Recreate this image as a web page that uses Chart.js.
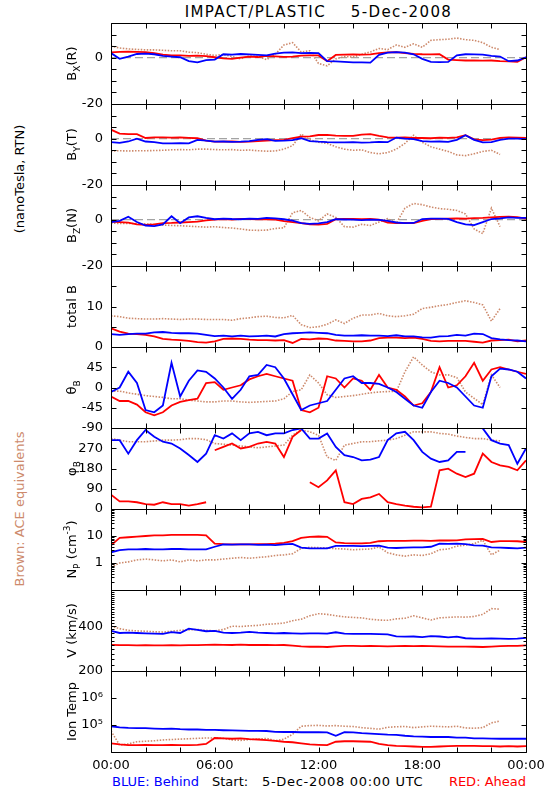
<!DOCTYPE html>
<html>
<head>
<meta charset="utf-8">
<title>IMPACT/PLASTIC 5-Dec-2008</title>
<script src="https://cdn.jsdelivr.net/npm/chart.js"></script>
<style>
  body { margin: 0; background: #fff; font-family: "DejaVu Sans", sans-serif; font-size: 13px; color: #000; }
  #page { position: relative; width: 550px; height: 800px; overflow: hidden; background: #fff; }
  #page canvas { position: absolute; left: 0; }
  .txt { position: absolute; white-space: pre; line-height: 16px; }
  .side { position: absolute; white-space: pre; line-height: 16px; transform: translate(-50%, -50%) rotate(-90deg); }
</style>
</head>
<body>
<div id="page">
  <div class="txt" style="left:111px; width:415px; top:3px; text-align:center; font-size:15px; line-height:18px; letter-spacing:1.4px;">IMPACT/PLASTIC    5-Dec-2008</div>
  <div class="side" style="left:20px; top:179px;">(nanoTesla, RTN)</div>
  <div class="side" style="left:20px; top:509px; color:#cd8a6c;">Brown: ACE equivalents</div>
  <div class="txt" style="left:112px; top:774px; color:#0000ff;">BLUE: Behind</div>
  <div class="txt" style="left:212px; top:774px;">Start:</div>
  <div class="txt" style="left:262px; top:774px; letter-spacing:0.7px;">5-Dec-2008 00:00 UTC</div>
  <div class="txt" style="right:24px; top:774px; color:#ff0000;">RED: Ahead</div>
</div>
<script>
// time axis, hours after 5-Dec-2008 00:00 UTC
const hours = [0,0.5,1,1.5,2,2.5,3,3.5,4,4.5,5,5.5,6,6.5,7,7.5,8,8.5,9,9.5,10,10.5,11,11.5,12,12.5,13,13.5,14,14.5,15,15.5,16,16.5,17,17.5,18,18.5,19,19.5,20,20.5,21,21.5,22,22.5,23,23.5,24];
const xTicks = [0,2,4,6,8,10,12,14,16,18,20,22,24];
const xTickText = ['00:00','','','06:00','','','12:00','','','18:00','','','00:00'];

// Bx (R), nT
const bxBlue = [2.0,-0.5,0.5,1.6,1.8,1.5,0.8,0.5,0.2,-1.5,-2.0,-1.0,-0.8,1.5,1.3,1.6,1.4,1.2,1.0,1.8,2.2,2.3,2.0,2.1,2.0,-1.5,-1.6,-1.8,-2.0,-2.0,-2.1,1.2,2.2,2.4,2.2,1.5,-0.5,-1.8,-1.9,-1.8,1.0,1.5,1.4,1.3,0.8,0.5,-1.5,-1.2,0.2];
const bxRed = [2.3,2.5,2.6,2.5,2.4,2.0,1.3,1.0,1.0,0.8,0.9,0.7,0.2,-0.3,-0.5,0.0,0.5,0.3,0.8,0.6,0.4,0.5,0.9,1.0,1.0,-1.5,1.2,1.3,1.4,1.3,1.4,2.0,2.3,2.4,2.0,1.7,1.5,1.4,1.5,-0.8,-1.0,-1.2,-1.2,-1.3,-1.2,-1.5,-1.6,-1.8,0.2];
const bxBrown = [5.0,4.2,3.8,3.6,3.4,3.4,3.2,3.0,3.0,2.4,2.2,1.5,1.0,1.4,0.5,-0.5,0.8,0.5,-0.8,1.5,5.5,6.5,2.5,3.0,-2.5,-3.5,-0.5,0.5,0.3,1.5,2.5,4.0,3.5,5.5,4.5,6.0,4.5,7.5,7.8,8.0,8.5,7.8,7.5,6.5,4.5,3.5,null,null,null];

// By (T), nT
const byBlue = [-1.5,-1.8,-1.2,0.0,-1.2,-1.5,-2.0,-2.0,-1.9,-2.0,-0.5,-0.8,-1.3,-1.2,-1.4,-1.3,-1.0,-0.5,-0.2,-0.9,-0.8,-0.6,0.2,-1.0,-1.3,-1.5,-1.6,-1.6,-1.5,-1.7,-1.6,-1.4,-1.5,0.5,0.0,-0.2,-1.0,-1.3,-1.2,-1.4,-0.5,1.5,-0.5,-1.6,-1.5,-0.5,0.0,0.0,-0.2];
const byRed = [3.9,2.2,2.0,2.0,0.3,0.6,0.6,0.5,0.6,0.4,0.2,-0.8,-1.3,-1.3,-1.2,-1.4,-1.3,-1.0,-0.8,-0.6,-0.5,0.3,0.9,1.0,1.6,1.7,1.3,1.2,1.2,1.8,2.0,1.2,0.6,0.5,0.6,0.3,0.3,0.2,0.5,0.4,0.6,1.5,-0.3,-0.6,-0.4,0.4,0.6,0.5,0.3];
const byBrown = [-5.3,-5.2,-5.3,-5.2,-5.2,-5.1,-5.0,-4.8,-4.7,-4.8,-4.5,-4.5,-4.7,-4.8,-4.7,-5.0,-4.9,-5.2,-5.4,-5.3,-4.5,-3.0,2.0,-0.5,-1.5,-2.0,-3.5,-4.5,-5.0,-4.8,-6.0,-6.5,-6.0,-4.5,-2.0,1.5,-1.5,-3.5,-4.5,-5.5,-7.0,-7.3,-6.5,-5.5,-5.0,-6.8,null,null,null];

// Bz (N), nT
const bzBlue = [-1.0,-0.5,1.3,-1.0,-2.5,-2.8,-2.0,1.5,-1.5,1.0,1.5,0.8,0.2,0.5,0.3,0.2,0.5,0.4,0.8,0.6,0.2,-0.4,-1.5,-1.8,-1.6,-1.0,0.2,0.1,0.0,-0.2,0.0,-0.1,-0.5,-1.2,-1.5,-1.4,0.3,0.5,0.5,0.4,-1.0,-2.0,-2.3,-1.0,0.3,0.6,1.0,0.8,0.8];
const bzRed = [-0.8,-1.0,-1.3,-2.0,-2.2,-2.0,-1.5,-1.4,-1.2,-1.0,-0.8,-0.3,0.0,0.3,0.0,0.4,0.3,0.2,0.2,0.0,-0.6,-1.0,-1.5,-2.0,-2.1,-1.8,0.2,0.4,0.3,0.2,0.3,0.0,-1.2,-1.5,-1.4,-1.5,-0.5,0.3,0.4,0.5,0.6,0.5,0.7,0.8,1.0,1.2,1.3,1.1,0.5];
const bzBrown = [-1.5,-1.6,-1.6,-1.7,-1.8,-2.0,-2.3,-2.5,-2.6,-2.8,-3.0,-3.2,-3.0,-3.4,-3.6,-4.0,-4.5,-4.6,-4.5,-3.8,-3.5,3.0,4.0,1.0,-0.5,2.5,1.0,-3.0,-3.2,-2.0,-2.5,-1.0,0.5,-1.5,5.0,7.0,6.5,5.5,4.8,4.5,4.0,2.5,-4.0,-6.0,5.0,-3.0,null,null,null];

// total B, nT
const tbBlue = [3.2,3.0,3.2,3.3,3.3,3.6,3.7,3.5,3.4,3.4,3.3,3.0,2.7,2.8,2.6,2.8,2.6,2.7,2.8,2.6,3.2,3.4,3.5,3.6,3.5,3.4,3.0,2.8,2.8,2.9,2.8,2.8,2.7,2.9,2.6,2.6,2.4,2.3,2.6,2.7,3.0,2.8,3.3,3.2,2.2,1.9,1.7,1.6,1.4];
const tbRed = [4.6,3.8,3.3,3.2,3.0,2.6,2.0,1.8,1.7,1.5,1.2,1.1,1.4,2.0,2.1,2.0,1.8,1.7,1.7,1.6,1.7,1.0,2.0,1.9,2.1,2.0,1.6,1.5,1.4,1.4,1.6,2.2,2.3,2.3,2.2,2.3,2.0,1.5,1.4,1.5,1.5,1.5,1.3,1.1,1.6,1.7,1.8,1.4,1.6];
const tbBrown = [7.7,7.5,7.1,7.0,6.9,6.9,7.0,6.9,6.8,6.9,6.9,6.8,6.8,6.8,6.6,7.0,7.2,7.5,7.6,7.3,7.2,7.8,5.5,4.8,5.0,5.6,6.7,5.8,7.1,7.9,7.9,8.3,7.7,7.5,7.7,8.1,9.5,9.8,10.2,10.5,11.0,11.4,11.0,10.4,6.4,9.5,null,null,null];

// theta B, degrees
const thBlue = [-10,0,35,10,-50,-55,-40,55,-20,15,38,35,20,0,-25,-5,25,28,50,45,20,-15,-50,-40,-35,-30,-5,20,25,10,10,8,0,-10,-25,-40,-45,-10,15,10,0,-20,-40,-45,25,42,40,35,20];
const thRed = [-20,-30,-30,-38,-55,-62,-55,-40,-32,-28,-25,10,12,-5,0,5,18,25,30,25,20,15,-50,-55,-45,25,20,0,20,15,-5,28,0,-5,-20,-40,-35,-10,45,0,5,25,55,15,40,45,40,35,30];
const thBrown = [-8,-8,-12,-15,-18,-20,-22,-25,-25,-28,-30,-32,-32,-30,-30,-32,-33,-32,-31,-30,-25,-9,-5,28,10,-16,-22,-20,-18,-15,-12,-10,-9,-9,35,68,50,35,28,28,22,-10,-24,-38,28,0,null,null,null];

// phi B, degrees
const phBlue = [306,306,246,306,351,321,299,291,269,240,209,246,328,313,336,306,336,343,328,336,336,351,358,313,313,336,276,239,231,216,219,231,306,336,343,306,254,224,209,216,254,254,52,358,306,291,284,201,269];
const phRed = [64,34,34,30,22,19,30,22,22,15,22,30,261,276,291,269,276,291,298,291,231,321,351,119,97,127,172,30,22,45,52,67,30,22,15,10,7,10,172,179,157,142,157,246,209,194,187,172,216];
const phBrown = [313,306,299,299,299,302,306,306,308,313,313,308,291,288,284,280,276,272,276,280,284,328,351,343,328,231,216,284,291,299,299,303,306,313,328,343,343,343,336,333,324,318,313,313,306,303,null,null,null];

// proton density, cm^-3
const npBlue = [2.5,3.0,3.2,3.2,3.3,3.2,3.2,3.3,3.3,3.2,3.2,3.2,4.0,4.9,4.8,4.9,4.9,4.7,4.8,4.6,4.9,5.1,3.7,3.5,3.5,3.5,4.3,4.3,4.3,4.2,4.3,4.4,3.7,3.6,3.7,3.8,3.8,4.0,5.2,5.1,5.2,5.0,4.5,4.4,3.8,3.7,3.6,3.5,3.7];
const npRed = [4.5,8.5,9.0,9.5,10,10.5,10.5,11,11,11,11,10.5,5.2,5.0,4.9,4.9,4.9,5.0,5.0,5.2,5.6,6.5,8.5,9.3,9.6,9.3,5.8,5.4,5.3,5.3,5.6,6.4,6.6,6.6,6.6,6.7,6.7,6.6,6.8,6.8,6.9,7.5,7.6,7.8,6.0,6.5,6.5,6.4,6.0];
const npBrown = [0.7,1.0,1.1,1.3,1.4,1.3,1.2,1.3,1.1,1.3,1.2,1.3,1.3,1.4,1.5,1.6,1.5,1.6,1.7,1.9,2.0,2.2,3.5,3.8,3.7,3.6,3.4,3.3,3.1,3.2,3.3,3.9,2.4,2.0,1.8,2.0,1.9,2.2,3.1,3.3,4.2,4.6,5.2,7.0,2.0,3.0,null,null,null];

// bulk speed, km/s
const vBlue = [372,360,362,360,358,356,355,365,360,385,378,370,372,362,360,362,366,362,360,358,360,358,356,358,358,356,364,356,355,355,355,354,352,342,340,341,338,343,341,336,340,332,330,330,331,330,329,330,334];
const vRed = [300,298,298,297,298,297,297,298,297,298,298,300,301,300,299,301,299,300,299,298,299,296,293,291,292,290,293,295,295,294,295,294,293,294,295,294,295,294,293,292,292,292,291,290,292,294,295,295,297];
const vBrown = [400,385,375,372,370,367,365,370,375,378,380,375,372,380,400,398,402,405,412,415,420,435,445,470,485,480,470,462,458,455,445,440,438,448,452,470,455,440,455,458,462,460,465,480,525,520,null,null,null];

// ion temperature, K
const tBlue = [90000,82000,78000,76000,76000,74000,72000,74000,70000,68000,68000,66000,66000,64000,63000,62000,61000,61000,60000,56000,55000,55000,54000,54000,54000,53000,40000,54000,53000,50000,48000,46000,44000,43000,40000,38000,37000,36000,36000,36000,34000,34000,32000,32000,31500,31000,31000,31500,31000];
const tRed = [21000,19000,18000,18000,18500,18000,18000,18500,18000,18000,18500,20000,33000,32000,31000,32000,30000,29000,27500,26000,24000,23000,21000,19000,18500,18000,24000,25000,25000,24500,24000,20000,18000,17000,16500,16000,15500,15500,16000,16500,17000,17000,17000,16500,16500,16000,16500,16000,16500];
const tBrown = [60000,18000,20000,24000,25000,26000,28000,29000,30000,31000,32000,33000,33000,32000,28000,27000,29000,30000,32000,26000,30000,45000,90000,95000,97000,92000,95000,90000,88000,80000,75000,70000,82000,86000,88000,80000,85000,90000,88000,85000,90000,78000,76000,80000,120000,140000,null,null,null];

// y axis ticks and their labels
const bTicks = [-20,-15,-10,-5,0,5,10,15];
const bTickText = ['-20','','','','0','','',''];
const tbTicks = [0,5,10,15,20];
const tbTickText = ['0','','10','',''];
const thTicks = [-90,-45,0,45,90];
const thTickText = ['-90','-45','0','45',''];
const phTicks = [0,90,180,270,360];
const phTickText = ['0','90','180','270',''];
const npTicks = [0.1,1,10,100];
const npTickText = ['','1','10',''];
const npMinor = [0.2,0.3,0.4,0.5,0.6,0.7,0.8,0.9,2,3,4,5,6,7,8,9,20,30,40,50,60,70,80,90];
const vTicks = [200,400];
const vTickText = ['200','400'];
const vMinor = [220,240,260,280,300,320,340,360,380,420,440,460,480,500,520,540,560,580,600,620,640,660,680,700];
const tTicks = [10000,100000,1000000,10000000];
const tTickText = ['','10\u2075','10\u2076',''];

const BLUE = '#0000ff';
const RED = '#ff0000';
const BROWN = '#cd8a6c';

Chart.defaults.font.family = '"DejaVu Sans", sans-serif';
Chart.defaults.font.size = 13;
Chart.defaults.color = '#000';

const panels = [
  { title: [['B'], ['X', 'sub'], ['(R)']], blue: bxBlue, red: bxRed, brown: bxBrown, type: 'linear', min: -20, max: 15, ticks: bTicks, text: bTickText, zero: true },
  { title: [['B'], ['Y', 'sub'], ['(T)']], blue: byBlue, red: byRed, brown: byBrown, type: 'linear', min: -20, max: 15, ticks: bTicks, text: bTickText, zero: true },
  { title: [['B'], ['Z', 'sub'], ['(N)']], blue: bzBlue, red: bzRed, brown: bzBrown, type: 'linear', min: -20, max: 15, ticks: bTicks, text: bTickText, zero: true },
  { title: [['total B']], blue: tbBlue, red: tbRed, brown: tbBrown, type: 'linear', min: 0, max: 20, ticks: tbTicks, text: tbTickText },
  { title: [['\u03b8'], ['B', 'sub']], blue: thBlue, red: thRed, brown: thBrown, type: 'linear', min: -90, max: 90, ticks: thTicks, text: thTickText },
  { title: [['\u03c6'], ['B', 'sub']], blue: phBlue, red: phRed, brown: phBrown, type: 'linear', min: 0, max: 360, ticks: phTicks, text: phTickText, wrap: true },
  { title: [['N'], ['P', 'sub'], [' (cm'], ['-3', 'sup'], [')']], blue: npBlue, red: npRed, brown: npBrown, type: 'logarithmic', min: 0.1, max: 100, ticks: npTicks, text: npTickText, minor: npMinor },
  { title: [['V (km/s)']], blue: vBlue, red: vRed, brown: vBrown, type: 'logarithmic', min: 200, max: 700, ticks: vTicks, text: vTickText, minor: vMinor },
  { title: [['Ion Temp']], blue: tBlue, red: tRed, brown: tBrown, type: 'logarithmic', min: 10000, max: 10000000, ticks: tTicks, text: tTickText }
];

const PANEL_TOP = 23;
const PANEL_H = 81;
const PAD = 8;
const X_LABELS_H = 30;
const TITLE_X = 76;

const toPoints = arr => hours.map((h, i) => ({ x: h, y: arr[i] }));

// rotated y title with sub/superscripts
function titlePlugin(parts) {
  return {
    id: 'panelTitle',
    afterDraw(chart) {
      const { ctx, chartArea } = chart;
      const big = '13px "DejaVu Sans"';
      const small = '9px "DejaVu Sans"';
      ctx.save();
      ctx.fillStyle = '#000';
      ctx.textBaseline = 'alphabetic';
      ctx.translate(TITLE_X, (chartArea.top + chartArea.bottom) / 2);
      ctx.rotate(-Math.PI / 2);
      const widths = parts.map(([t, m]) => { ctx.font = m ? small : big; return ctx.measureText(t).width; });
      let x = -widths.reduce((a, b) => a + b, 0) / 2;
      parts.forEach(([t, m], k) => {
        ctx.font = m ? small : big;
        ctx.fillText(t, x, m === 'sub' ? 4 : m === 'sup' ? -6 : 0);
        x += widths[k];
      });
      ctx.restore();
    }
  };
}

// box round the panel, ticks pointing inwards on all four sides
function framePlugin(minor) {
  return {
    id: 'frame',
    afterDraw(chart) {
      const { ctx, chartArea: a, scales } = chart;
      const crisp = v => Math.round(v) + 0.5;
      const left = crisp(a.left), right = crisp(a.right), top = crisp(a.top), bottom = crisp(a.bottom);
      ctx.save();
      ctx.strokeStyle = '#000';
      ctx.lineWidth = 1;
      ctx.beginPath();
      ctx.rect(left, top, right - left, bottom - top);
      scales.x.ticks.forEach(t => {
        const xp = crisp(scales.x.getPixelForValue(t.value));
        ctx.moveTo(xp, top); ctx.lineTo(xp, top + 5);
        ctx.moveTo(xp, bottom); ctx.lineTo(xp, bottom - 5);
      });
      const yTick = (v, len) => {
        const yp = crisp(scales.y.getPixelForValue(v));
        ctx.moveTo(left, yp); ctx.lineTo(left + len, yp);
        ctx.moveTo(right, yp); ctx.lineTo(right - len, yp);
      };
      scales.y.ticks.forEach(t => yTick(t.value, 5));
      (minor || []).forEach(v => yTick(v, 3));
      ctx.stroke();
      ctx.restore();
    }
  };
}

const noGrid = { display: false, drawTicks: false };
// keep Chart.js from adding room for half-labels at the axis ends
const noEndPadding = s => { s.paddingTop = 0; s.paddingBottom = 0; s.paddingLeft = 0; s.paddingRight = 0; };

function makeChart(p, i) {
  const last = i === panels.length - 1;
  const padBottom = last ? 0 : PAD;
  const canvas = document.createElement('canvas');
  canvas.width = 550;
  canvas.height = PANEL_H + PAD + (last ? X_LABELS_H : PAD);
  canvas.style.top = (PANEL_TOP + i * PANEL_H - PAD) + 'px';
  document.getElementById('page').appendChild(canvas);

  // hide the connecting stroke where the angle wraps round 0/360
  const wrapSeg = p.wrap ? { borderColor: c => Math.abs(c.p1.parsed.y - c.p0.parsed.y) > 180 ? 'rgba(0,0,0,0)' : undefined } : undefined;

  const datasets = [
    { data: toPoints(p.blue), borderColor: BLUE, borderWidth: 1.8, pointRadius: 0, segment: wrapSeg },
    { data: toPoints(p.red), borderColor: RED, borderWidth: 1.8, pointRadius: 0, segment: wrapSeg },
    { data: toPoints(p.brown), borderColor: BROWN, borderWidth: 1.6, borderDash: [1.5, 1.5], pointRadius: 0, segment: wrapSeg }
  ];
  if (p.zero) {
    datasets.push({ data: [{ x: 0, y: 0 }, { x: 24, y: 0 }], borderColor: '#8c8c8c', borderWidth: 1, borderDash: [8, 4], pointRadius: 0 });
  }

  new Chart(canvas, {
    type: 'line',
    data: { datasets },
    options: {
      responsive: false,
      animation: false,
      events: [],
      layout: { padding: { left: 0, right: 24, top: PAD, bottom: padBottom } },
      plugins: { legend: { display: false }, tooltip: { enabled: false } },
      scales: {
        x: {
          type: 'linear', min: 0, max: 24, position: 'bottom',
          afterBuildTicks: s => { s.ticks = xTicks.map(v => ({ value: v })); },
          afterFit: s => { s.height = last ? X_LABELS_H : 0; noEndPadding(s); },
          grid: noGrid,
          border: { display: false },
          ticks: { display: last, autoSkip: false, maxRotation: 0, padding: 6, callback: (v, k) => xTickText[k] }
        },
        y: {
          type: p.type, min: p.min, max: p.max, position: 'left',
          afterBuildTicks: s => { s.ticks = p.ticks.map(v => ({ value: v })); },
          afterFit: s => { s.width = 111; noEndPadding(s); },
          grid: noGrid,
          border: { display: false },
          ticks: { autoSkip: false, padding: 8, callback: (v, k) => p.text[k] }
        }
      }
    },
    plugins: [framePlugin(p.minor), titlePlugin(p.title)]
  });
}

panels.forEach(makeChart);
</script>
</body>
</html>
